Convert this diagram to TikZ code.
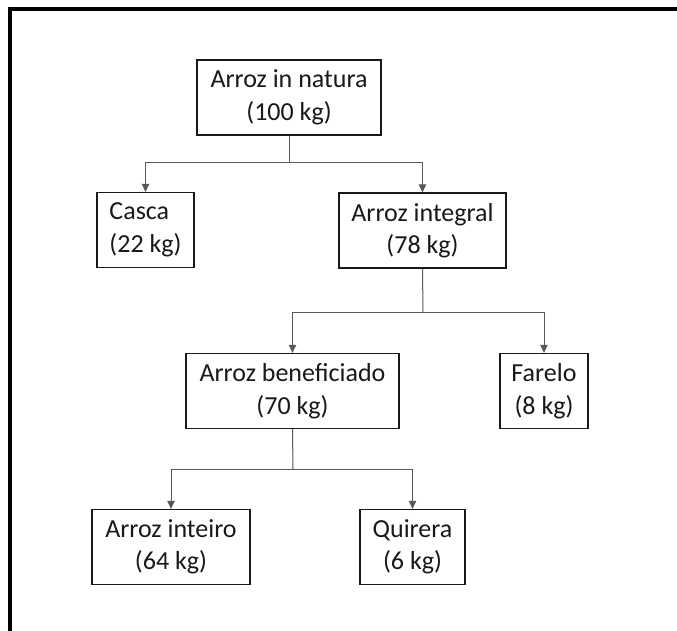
\documentclass[tikz,border=0pt]{standalone}
\usepackage{fontspec}
\setmainfont{Carlito}
\usetikzlibrary{arrows.meta}
\begin{document}
\begin{tikzpicture}[x=1pt,y=-1pt,
  box/.style={draw=black!90, line width=1.3pt, rectangle, inner sep=0pt,
    minimum height=75pt, align=center, text=black!90,
    font=\fontsize{26}{32.5}\selectfont},
  conn/.style={draw=black!65, line width=1pt},
  arr/.style={conn, -{Triangle[length=8pt,width=7.5pt]}}]
\useasboundingbox (0,0) rectangle (677,631);
\fill[white] (0,0) rectangle (677,631);
% frame
\draw[line width=4.5pt] (8,9) -- (677,9);
\draw[line width=4.5pt] (10,7) -- (10,631);
% nodes
\node[box, minimum width=184pt] (natura) at (289,97.5) {Arroz in natura\\(100 kg)};
\node[box, minimum width=97pt, align=left] (casca) at (145.5,230) {Casca\\(22 kg)};
\node[box, minimum width=167pt] (integral) at (422.5,230.5) {Arroz integral\\(78 kg)};
\node[box, minimum width=213pt] (benef) at (292.5,391) {Arroz beneficiado\\(70 kg)};
\node[box, minimum width=88pt] (farelo) at (544,391) {Farelo\\(8 kg)};
\node[box, minimum width=158pt] (inteiro) at (171,547) {Arroz inteiro\\(64 kg)};
\node[box, minimum width=105pt] (quirera) at (412.5,547) {Quirera\\(6 kg)};
% junctions
\coordinate (j1) at (289,163);
\coordinate (j2) at (423,312);
\coordinate (j3) at (293,469);
% connectors
\draw[conn] (natura.south) -- (j1);
\draw[arr] (j1) -| (casca.north);
\draw[arr] (j1) -| (integral.north);
\draw[conn] (integral.south) -- (j2);
\draw[arr] (j2) -| (benef.north);
\draw[arr] (j2) -| (farelo.north);
\draw[conn] (benef.south) -- (j3);
\draw[arr] (j3) -| (inteiro.north);
\draw[arr] (j3) -| (quirera.north);
\end{tikzpicture}
\end{document}
